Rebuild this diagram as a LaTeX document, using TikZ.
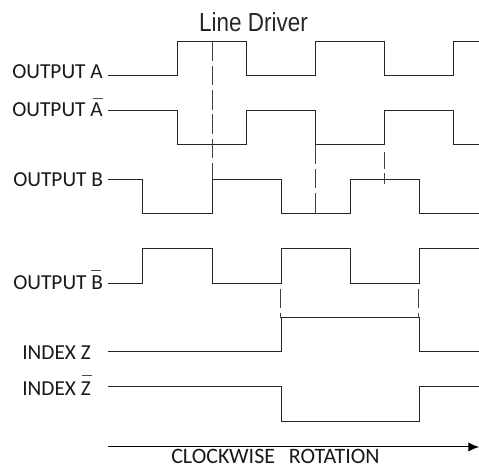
\documentclass[tikz,border=0pt]{standalone}
\usepackage{fontspec}
\setmainfont{Carlito}
\newfontfamily\titlefont{Liberation Sans}
\usetikzlibrary{arrows.meta}
\tikzset{
  wave/.style={draw=black!85,line width=0.75pt,line join=miter},
  guide/.style={draw=black!75,line width=0.7pt,dash pattern=on 14.5pt off 3.6pt},
  lab/.style={inner sep=0pt,anchor=base west,font=\fontsize{16}{18}\selectfont,text=black!90},
  bar/.style={draw=black!70,line width=0.7pt},
}
\begin{document}
\begin{tikzpicture}[x=0.75pt,y=-0.75pt]
\useasboundingbox (0,0) rectangle (479,466);
% start points of the signals
\coordinate (sa) at (108,76);
\coordinate (sna) at (108,110.5);
\coordinate (sb) at (108,180);
\coordinate (snb) at (108,283.5);
\coordinate (sz) at (108,352);
\coordinate (snz) at (108,387);
\coordinate (ra) at (108,447);
\coordinate (rb) at (479,447);
% labels
\node[inner sep=0pt,anchor=base west,font=\titlefont\fontsize{19.6}{22}\selectfont,xscale=0.86,text=black!85] (title) at (199,32) {Line Driver};
\node[lab] (la) at (12,78.5) {OUTPUT A};
\node[lab] (lna) at (12,116.5) {OUTPUT A};
\node[lab] (lb) at (13,187) {OUTPUT B};
\node[lab] (lnb) at (13,290) {OUTPUT B};
\node[lab] (lz) at (22,360) {INDEX Z};
\node[lab] (lnz) at (22,396) {INDEX Z};
\node[lab,font=\fontsize{16.5}{18}\selectfont] (lr) at (171,463.5) {CLOCKWISE\hspace{0.63em}ROTATION};
% overbars
\draw[bar] (93,98) -- (102.5,98);
\draw[bar] (91,270.7) -- (101,270.7);
\draw[bar] (82,375) -- (92,375);
% waveforms
\draw[wave] (sa) -| (177,42) -| (246,76) -| (315,42) -| (384,76) -| (453,42) -- (479,42);
\draw[wave] (sna) -| (177,145) -| (246,110.5) -| (315,145) -| (384,110.5) -| (453,145) -- (479,145);
\draw[wave] (sb) -| (142.5,214) -| (212,180) -| (281,214) -| (350,180) -| (419,214) -- (479,214);
\draw[wave] (snb) -| (142.5,249) -| (212,283.5) -| (281,249) -| (350,283.5) -| (419,249) -- (479,249);
\draw[wave] (sz) -| (281,318) -| (419.5,352) -- (479,352);
\draw[wave] (snz) -| (281,421.5) -| (419.5,387) -- (479,387);
% guides
\draw[guide] (212,42) -- (212,180);
\draw[guide] (315,145) -- (315,214);
\draw[guide,dash pattern=on 13pt off 3pt] (384,152) -- (384,184);
\draw[guide] (280.5,289) -- (280.5,318);
\draw[guide] (418.5,289) -- (418.5,318);
% rotation arrow
\draw[draw=black,line width=0.75pt,-{Latex[length=8pt,width=7pt]}] (ra) -- (rb);
\end{tikzpicture}
\end{document}
